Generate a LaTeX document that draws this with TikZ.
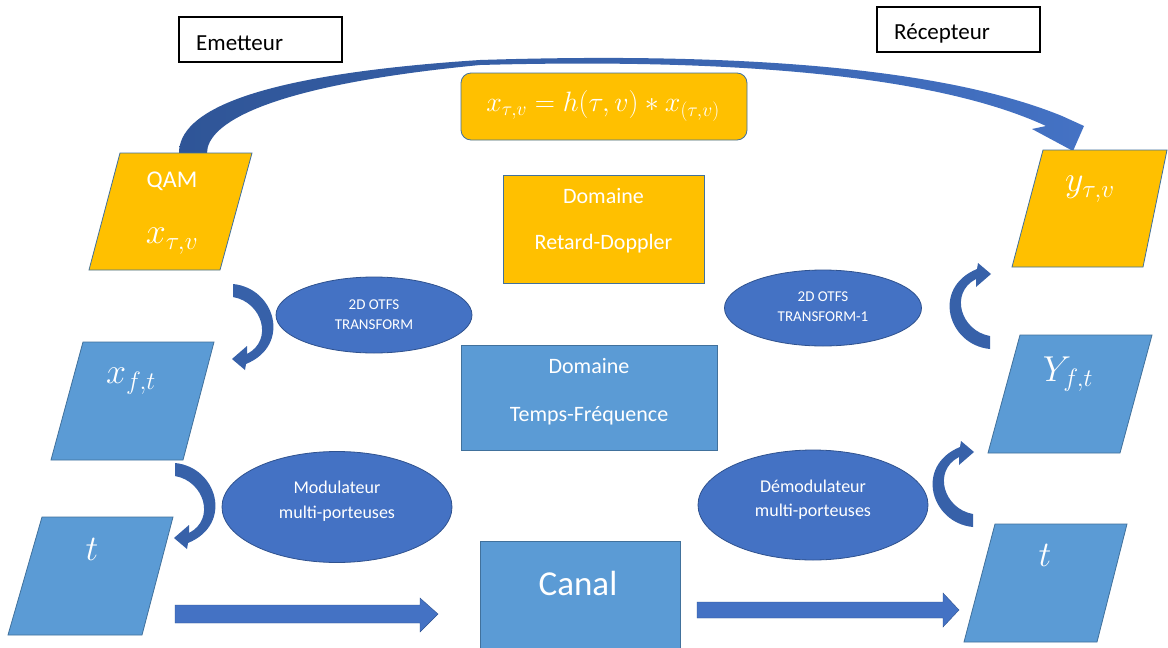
\RequirePackage{fix-cm}
\documentclass[tikz,border=0pt]{standalone}
\usepackage{fontspec}
\setmainfont{Carlito}
\usetikzlibrary{shapes.geometric}
\definecolor{orng}{HTML}{FFC000}
\definecolor{lblue}{HTML}{5B9BD5}
\definecolor{bedge}{HTML}{41719C}
\definecolor{eblue}{HTML}{4472C4}
\definecolor{eedge}{HTML}{2F528F}
\definecolor{dblue}{HTML}{2F5597}
\newcommand{\crescentpath}{(233,284) .. controls (275,288) and (292,345) .. (246,364) -- (245,370) -- (232,359) -- (247,346) -- (247,354) .. controls (274,340) and (262,302) .. (233,297) -- cycle}
\begin{document}
\begin{tikzpicture}[x=1pt,y=-1pt,
  lbl/.style={draw=black, line width=1.2pt, fill=white, minimum width=163pt, minimum height=45pt, inner sep=0pt},
  lbltext/.style={anchor=base west, inner sep=0pt, font=\fontsize{23}{26}\selectfont},
  orpara/.style={fill=orng, draw=bedge, line width=0.8pt},
  blpara/.style={fill=lblue, draw=bedge, line width=0.8pt},
  rbox/.style={draw=bedge, line width=0.8pt, inner sep=0pt},
  ell/.style={ellipse, draw=eedge, fill=eblue, line width=0.8pt, inner sep=0pt},
  wtext/.style={text=white, align=center, inner sep=0pt},
  mathlbl/.style={text=white, inner sep=0pt, font=\fontsize{36}{40}\selectfont},
  carrow/.style={fill=dblue!60!eblue},
  blockarrow/.style={fill=eblue, draw=eedge, line width=0.4pt}
]
\useasboundingbox (0,0) rectangle (1168,648);
\fill[white] (0,0) rectangle (1168,648);

% labels
\node[lbl] (emet) at (260.5,39.5) {};
\node[lbltext] (emett) at (196,50) {Emetteur};
\node[lbl] (recep) at (958.5,29.5) {};
\node[lbltext] (rect) at (894,39) {Récepteur};

% big curved arrow
\shade[left color=dblue, right color=eblue]
  (179,153) .. controls (179,112) and (250,75) .. (480,60)
  .. controls (700,53) and (930,62) .. (1062,116)
  -- (1084,126) -- (1073,151) -- (1032,129) -- (1046,126)
  .. controls (925,70) and (700,59) .. (480,65)
  .. controls (262,86) and (207,125) .. (207,153) -- cycle;

% formula
\node[rbox, fill=orng, rounded corners=10pt, minimum width=286pt, minimum height=67pt] (formbox) at (604,106.5) {};
\node[mathlbl, font=\fontsize{28}{32}\selectfont] (form) at (603,106) {$x_{\tau,v} = h(\tau,v) * x_{(\tau,v)}$};

% parallelograms
\filldraw[orpara] (120,153) -- (252,153) -- (220,270) -- (89,270) -- cycle;
\node[wtext, font=\fontsize{24}{28}\selectfont] (qam) at (172,181) {QAM};
\node[mathlbl] (xtv) at (172,241) {$x_{\tau,v}$};

\filldraw[orpara] (1043,150) -- (1167,150) -- (1143,267) -- (1012,267) -- cycle;
\node[mathlbl] (ytv) at (1090,189) {$y_{\tau,v}$};

\filldraw[blpara] (83,342) -- (214,342) -- (183,460) -- (51,460) -- cycle;
\node[mathlbl] (xft) at (131,381) {$x_{f,t}$};

\filldraw[blpara] (42,517) -- (173,517) -- (142,635) -- (8,635) -- cycle;
\node[mathlbl] (tl) at (92,549) {$t$};

\filldraw[blpara] (1020,335) -- (1152,335) -- (1120,453) -- (988,453) -- cycle;
\node[mathlbl] (yft) at (1068,374) {$Y_{f,t}$};

\filldraw[blpara] (995,524) -- (1127,524) -- (1097,642) -- (964,642) -- cycle;
\node[mathlbl] (tr) at (1045,555) {$t$};

% domain boxes
\node[rbox, fill=orng, minimum width=201pt, minimum height=108pt] (rd) at (603.5,229) {};
\node[wtext, font=\fontsize{22}{46}\selectfont] (rdt) at (603.5,221) {Domaine\\Retard-Doppler};
\node[rbox, fill=lblue, minimum width=256pt, minimum height=105pt] (tf) at (589,397.5) {};
\node[wtext, font=\fontsize{22}{48}\selectfont] (tft) at (589,392) {Domaine\\Temps-Fréquence};

% ellipses
\node[ell, minimum width=196pt, minimum height=76pt] (otfs) at (374,315) {};
\node[wtext, font=\fontsize{15}{20}\selectfont] (otfst) at (374,315) {2D OTFS\\TRANSFORM};
\node[ell, minimum width=197pt, minimum height=76pt] (otfsi) at (823,308) {};
\node[wtext, font=\fontsize{15}{20}\selectfont] (otfsit) at (823,307) {2D OTFS\\TRANSFORM-1};
\node[ell, minimum width=230pt, minimum height=111pt] (mod) at (337,507) {};
\node[wtext, font=\fontsize{18}{25}\selectfont] (modt) at (337,501) {Modulateur\\multi-porteuses};
\node[ell, minimum width=230pt, minimum height=110pt] (demod) at (813,505) {};
\node[wtext, font=\fontsize{18}{24}\selectfont] (demodt) at (813,500) {Démodulateur\\multi-porteuses};

% canal
\node[rbox, fill=lblue, minimum width=200pt, minimum height=112pt] (canal) at (580,597) {};
\node[wtext, font=\fontsize{35}{40}\selectfont] (canalt) at (578,583) {Canal};

% block arrows
\filldraw[blockarrow] (175,605) -- (420,605) -- (420,598) -- (438,614) -- (420,632) -- (420,623) -- (175,623) -- cycle;
\filldraw[blockarrow] (697,602) -- (943,602) -- (943,593) -- (959,610) -- (943,627) -- (943,618) -- (697,618) -- cycle;

% curved arrows
\fill[carrow] \crescentpath;
\begin{scope}[shift={(-58,179)}]
  \fill[carrow] \crescentpath;
\end{scope}
\begin{scope}[shift={(1223,633)}, rotate=180]
  \fill[carrow] \crescentpath;
\end{scope}
\begin{scope}[shift={(1206,811)}, rotate=180]
  \fill[carrow] \crescentpath;
\end{scope}
\end{tikzpicture}
\end{document}
